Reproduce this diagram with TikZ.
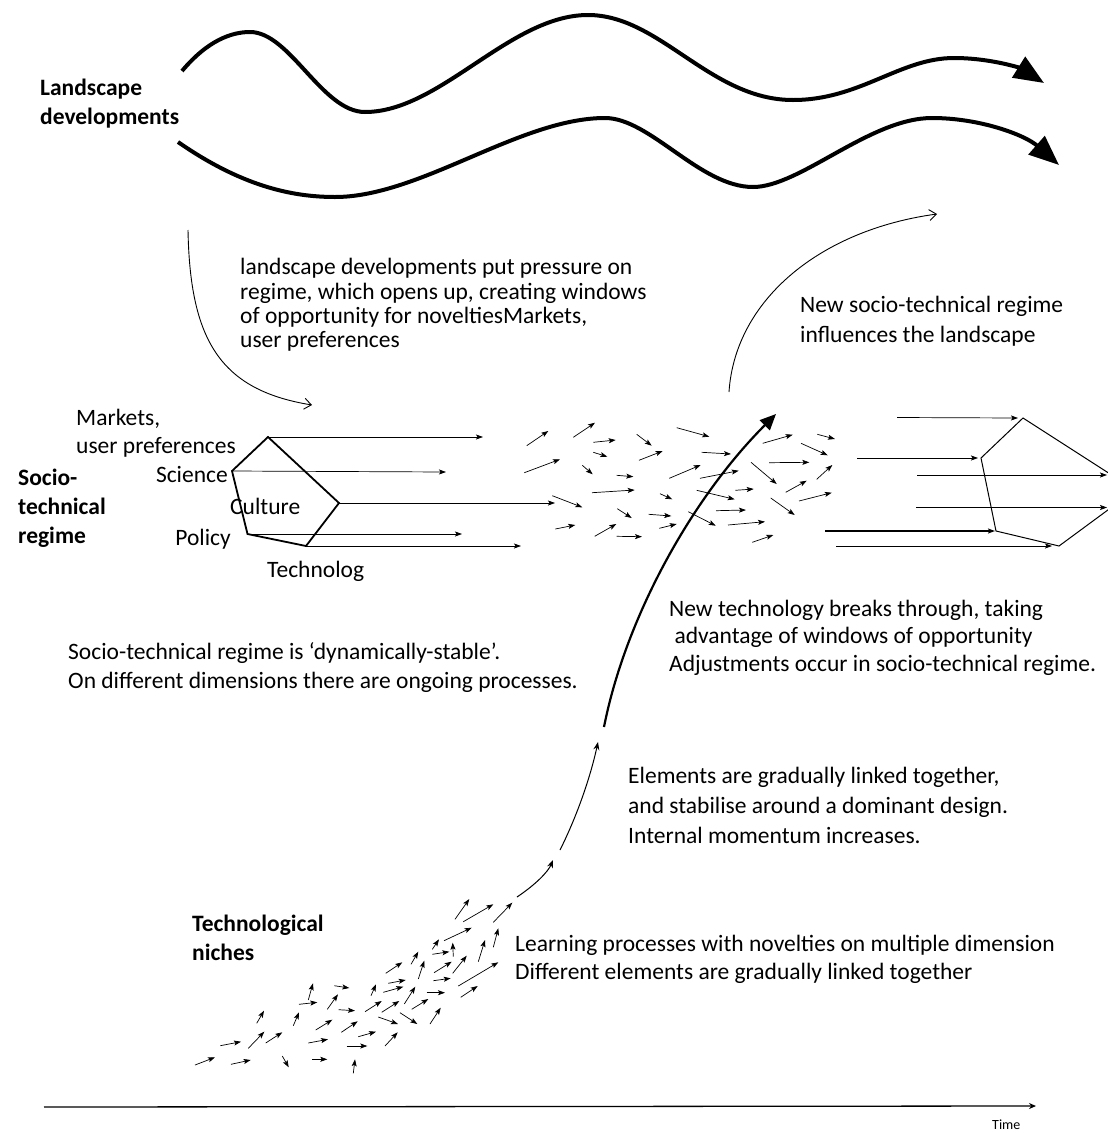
\documentclass[tikz,border=0pt]{standalone}
\usepackage{fontspec}
\setmainfont{Carlito}
\usetikzlibrary{arrows.meta}
\begin{document}
\begin{tikzpicture}[x=1pt,y=-1pt,
  txt/.style={anchor=base west,inner sep=0pt,font=\fontsize{23.5}{28}\selectfont},
  btxt/.style={anchor=base west,inner sep=0pt,font=\fontsize{23.5}{28}\selectfont\bfseries},
  wave/.style={line width=4pt,line cap=butt,-{Triangle[length=30pt,width=24pt]}},
  sm/.style={line width=0.7pt,-{Stealth[length=7pt,width=5pt,inset=1.5pt]}},
  thinarc/.style={line width=0.9pt,-{Straight Barb[length=7pt,width=11pt]}},
  thinup/.style={line width=1pt,-{Stealth[length=8pt,width=6pt]}},
  main/.style={line width=2.2pt,-{Triangle[length=16pt,width=14pt]}},
  penta/.style={line width=1.8pt,line join=miter},
  pentb/.style={line width=1pt,line join=miter},
]
\useasboundingbox (0,0) rectangle (1108,1133);
\clip (0,0) rectangle (1108,1133);

% landscape waves
\coordinate (w1s) at (182,71);
\coordinate (w1e) at (1044,83);
\draw[wave] (w1s) .. controls (208,40) and (232,32) .. (250,32)
  .. controls (290,32) and (322,112) .. (365,112)
  .. controls (440,112) and (510,15) .. (588,15)
  .. controls (660,15) and (710,100) .. (793,100)
  .. controls (860,100) and (900,58) .. (954,58)
  .. controls (990,58) and (1020,68) .. (w1e);
\coordinate (w2s) at (178,142);
\coordinate (w2e) at (1059,165);
\draw[wave] (w2s) .. controls (240,185) and (290,197) .. (335,197)
  .. controls (420,197) and (520,118) .. (605,118)
  .. controls (650,118) and (700,187) .. (753,187)
  .. controls (800,187) and (870,118) .. (932,118)
  .. controls (980,118) and (1025,135) .. (w2e);

\node[btxt] (land1) at (40,95) {Landscape};
\node[btxt] (land2) at (40,124) {developments};

% left curved arrow
\coordinate (e0) at (188,230);
\coordinate (e1) at (312,405);
\draw[thinarc] (e0) .. controls (190,340) and (220,390) .. (e1);

\node[txt] (b1a) at (240,274) {landscape developments put pressure on};
\node[txt] (b1b) at (240,299) {regime, which opens up, creating windows};
\node[txt] (b1c) at (240,323) {of opportunity for noveltiesMarkets,};
\node[txt] (b1d) at (240,347) {user preferences};

% upper curved arrow
\coordinate (d0) at (729,392);
\coordinate (d1) at (937,214);
\draw[thinarc] (d0) .. controls (735,300) and (820,230) .. (d1);

\node[txt] (b2a) at (800,312) {New socio-technical regime};
\node[txt] (b2b) at (800,342) {influences the landscape};

% regime labels
\node[btxt] (r1) at (18,485) {Socio-};
\node[btxt] (r2) at (18,514) {technical};
\node[btxt] (r3) at (18,543) {regime};

\node[txt] (m1) at (76,425) {Markets,};
\node[txt] (m2) at (76,453) {user preferences};
\node[txt,anchor=base east] (sci) at (228,482) {Science};
\node[txt] (cul) at (230,514) {Culture};
\node[txt,anchor=base east] (pol) at (231,545) {Policy};
\node[txt] (tec) at (267,577) {Technolog};

% left pentagon
\coordinate (p1) at (268,437);
\coordinate (p2) at (232,471);
\coordinate (p3) at (247.5,534);
\coordinate (p4) at (306,546);
\coordinate (p5) at (339,503);
\draw[penta] (p1) -- (p5) -- (p4) -- (p3) -- (p2) -- cycle;
\coordinate (pa1) at (483,437);
\coordinate (pa2) at (446,472);
\coordinate (pa5) at (555,503);
\coordinate (pa3) at (462,534);
\coordinate (pa4) at (521,546);
\draw[sm] (p1) -- (pa1);
\draw[sm] (p2) -- (pa2);
\draw[sm] (p5) -- (pa5);
\draw[sm] (p3) -- (pa3);
\draw[sm] (p4) -- (pa4);

% scattered regime arrows
\foreach \xa/\ya/\xb/\yb in {
526.7/445.7/548.3/431, 573.3/437.3/595/422.7, 593.3/442.3/615.7/440,
636.7/434.3/651.7/445.7, 676.7/427.7/709.3/436.7, 593.3/452.3/607.3/456.7,
639/460.3/662.7/451, 701.7/452.3/731/454, 524.3/472.7/560/459.3,
582.3/465.3/592.7/474.3, 616.7/475.3/633.3/476.7, 669.3/478.3/700.7/465,
700/478.3/738.7/470.7, 592/492.7/634.7/490, 552.3/495.7/582.3/507.3,
660/493.7/672.3/499.3, 696.7/490.3/734.7/499.3, 735.3/490.3/753.7/489,
617.3/508.7/631.7/518, 648.7/514.3/671.3/516, 688.3/511.7/715.7/525.7,
716/510.7/746/510, 555.3/529/575.3/525, 594.7/536.3/616.3/524,
616.7/536.3/642/536.7, 659.3/528.3/676.7/524, 728/525/765/521.7,
752.3/542.3/773.3/535, 762.7/443.3/792.7/434.7, 801/443.3/827.7/455.3,
817.3/434.3/835/439, 769/462.7/809.3/462.3, 751/462.3/776.7/484,
816.7/479.3/832.3/465, 785.7/492.3/806.7/480.7, 799/501/831.7/492.7,
770.7/498/794.7/515}
  \draw[sm] (\xa,\ya) -- (\xb,\yb);

% right pentagon
\coordinate (q1) at (1023,418);
\coordinate (q2) at (981,458);
\coordinate (q3) at (996,531);
\coordinate (q4) at (1059,546);
\coordinate (q5) at (1135,490);
\draw[pentb] (q1) -- (q5) -- (q4) -- (q3) -- (q2) -- cycle;
\coordinate (s1) at (897,417.5);
\coordinate (s2) at (857,458);
\coordinate (s3) at (917,475);
\coordinate (s4) at (916,507.5);
\coordinate (s5) at (825,531);
\coordinate (s6) at (836,546);
\coordinate (t3) at (1107,475);
\coordinate (t4) at (1107,507.5);
\coordinate (t6) at (1052,546);
\draw[sm] (s1) -- ([xshift=-5pt]q1);
\draw[sm] (s2) -- ([xshift=-3pt]q2);
\draw[sm] (s3) -- (t3);
\draw[sm] (s4) -- (t4);
\draw[sm,line width=2pt] (s5) -- ([xshift=-1pt]q3);
\draw[sm] (s6) -- (t6);

% breakthrough path
\coordinate (c0) at (604,727);
\coordinate (c1) at (776,414);
\draw[main] (c0) .. controls (625,620) and (690,500) .. (c1);
\coordinate (bb0) at (560,850);
\coordinate (bb1) at (598,742);
\draw[thinup] (bb0) .. controls (580,810) and (592,770) .. (bb1);
\coordinate (aa0) at (517,897);
\coordinate (aa1) at (553,860);
\draw[thinup] (aa0) .. controls (535,885) and (548,872) .. (aa1);

\node[txt] (b3a) at (669,616) {New technology breaks through, taking};
\node[txt] (b3b) at (669,643) {\ advantage of windows of opportunity};
\node[txt] (b3c) at (669,671) {Adjustments occur in socio-technical regime.};

\node[txt] (b4a) at (68,659) {Socio-technical regime is ‘dynamically-stable’.};
\node[txt] (b4b) at (68,688) {On different dimensions there are ongoing processes.};

\node[txt] (b5a) at (628,783) {Elements are gradually linked together,};
\node[txt] (b5b) at (628,813) {and stabilise around a dominant design.};
\node[txt] (b5c) at (628,843) {Internal momentum increases.};

\node[btxt] (n1) at (192,931) {Technological};
\node[btxt] (n2) at (192,960) {niches};

\node[txt] (b6a) at (515,951) {Learning processes with novelties on multiple dimension};
\node[txt] (b6b) at (515,979) {Different elements are gradually linked together};

% niche arrows
\foreach \xa/\ya/\xb/\yb in {
195/1065/215/1057.3, 231/1064.3/250.7/1060, 282.3/1056/288.7/1067.3,
312.3/1059.3/327.3/1059.3, 353.3/1073.3/355/1059.3, 220.3/1045.7/241/1041.7,
248.3/1048.3/264.3/1031.7, 265.7/1043/282.3/1032.3, 256.7/1023.3/264/1010.7,
293.3/1025.7/299/1012.3, 308.3/1043/328/1039.3, 346.7/1046/367.3/1046,
358.3/1036.7/376/1031.7, 385/1046/397.7/1032.3, 315.7/1030/332.3/1019.7,
341.3/1032.3/357.7/1021.3, 378.3/1017/398/1024, 400/1012.7/417.3/1024,
430/1024/440.7/1007.7, 299/1004.3/317.3/1002.3, 308.3/1000/313/983.3,
334.3/985.7/349.3/988, 327.3/1009.3/338/994.3, 338.7/1009.7/355/1010.7,
365/1011.7/381.7/1001, 381.7/1012.3/399.3/1001, 371/995.7/376/984.3,
383.3/992.3/403.3/986.7, 388.3/983.3/405.7/980, 385.7/973.3/402.3/962.3,
404.3/1004/415.3/986.7, 411.7/1009.3/428.3/999, 426.7/992.7/445/992.7,
411/964.3/418.3/951.7, 418.3/979/424.3/960.7, 432.3/949.3/439/939.3,
432.3/954.3/449.3/951.7, 453.3/956.7/452.7/942.7, 434/972.7/451.7/961.7,
433.3/980.7/450.7/978.3, 452.7/973.3/466.7/955.7, 444/940.7/471.7/927.7,
478.3/961.7/485/940, 458.3/986/498.3/962.3, 460.7/997.3/477.7/986,
493.3/947.3/498.3/928.3, 455/919.3/469.3/899, 463.3/921.7/493.3/904.3,
493.3/922.3/512.3/902.7}
  \draw[sm] (\xa,\ya) -- (\xb,\yb);

% time axis
\coordinate (ax0) at (44,1107);
\coordinate (ax1) at (1036,1106);
\draw[line width=1.3pt,-{Stealth[length=7pt,width=6pt]}] (ax0) -- (ax1);
\node[anchor=base west,inner sep=0pt,font=\fontsize{14}{16}\selectfont] (time) at (992,1129) {Time};
\end{tikzpicture}
\end{document}
